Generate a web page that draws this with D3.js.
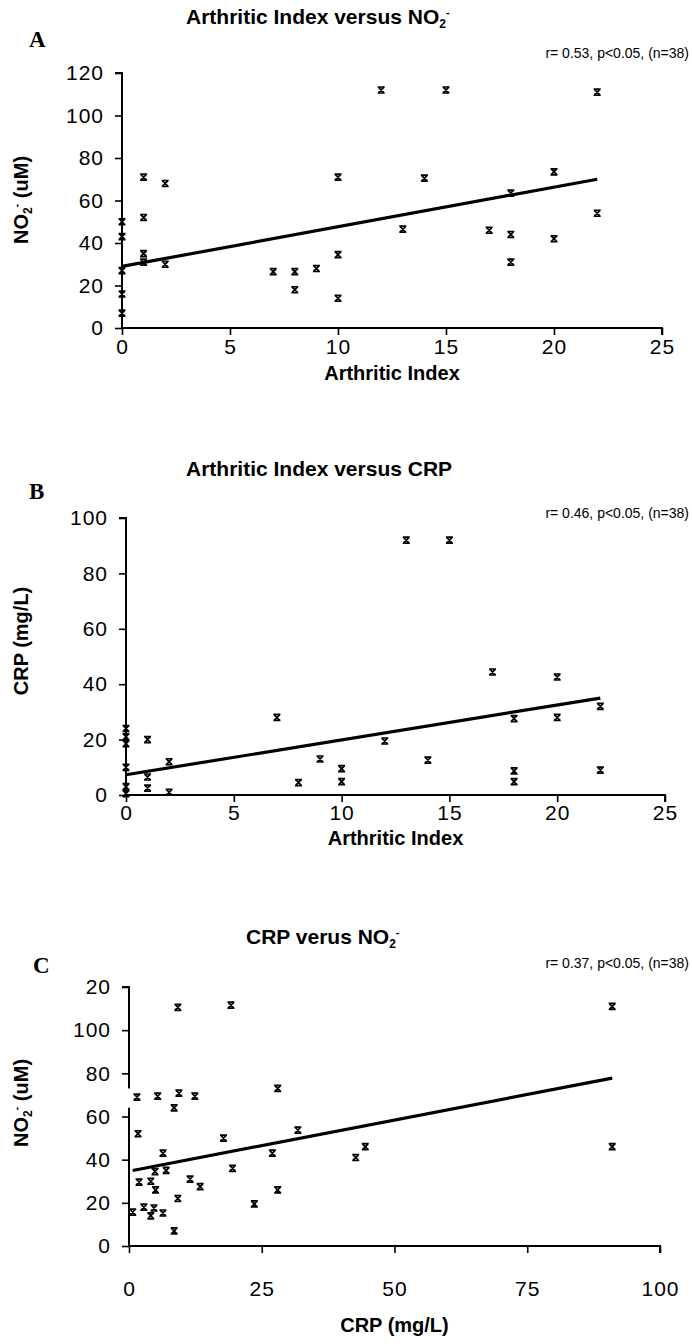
<!DOCTYPE html>
<html><head><meta charset="utf-8">
<script src="https://cdn.jsdelivr.net/npm/d3@7"></script>
<style>
body{margin:0;background:#fff;}
svg{display:block;}
text{font-family:"Liberation Sans",Arial,sans-serif;fill:#000;}
</style></head><body>
<svg id="c" width="692" height="1344"></svg>
<script>
// ---------- DATA ----------
// Panel A: Arthritic Index (x) vs NO2- (uM) (y)
const aX = [0,0,0,0,0, 1,1,1,1, 2,2, 7, 8,8, 9, 10,10,10, 12, 13, 14, 15, 17, 18,18,18, 20,20, 22,22];
const aY = [50,43,27,16,7, 71,52,35,31, 68,30, 26.5, 26.5,18, 28, 71,34.5,14, 112, 46.5, 70.5, 112, 46, 63.5,44,31, 73.5,42, 111,54];
const aFit = [[0,29],[22,70]];
const aXTicks = [0,5,10,15,20,25];
const aYTicks = [0,20,40,60,80,100,120];

// Panel B: Arthritic Index (x) vs CRP (mg/L) (y)
const bX = [0,0,0,0,0,0, 1,1,1, 2,2, 7, 8, 9, 10,10, 12, 13, 14, 15, 17, 18,18,18, 20,20, 22,22];
const bY = [24,21,18.5,10,3,0.5, 20,6.5,2.5, 12,1, 28, 4.5, 13, 9.5,4.8, 19.5, 92, 12.6, 92, 44.4, 27.6,8.7,4.8, 42.6,28, 32,9];
const bFit = [[0,7.3],[22,35]];
const bXTicks = [0,5,10,15,20,25];
const bYTicks = [0,20,40,60,80,100];

// Panel C: CRP (mg/L) (x) vs NO2- (uM) (y)
const cX = [9.2,19.2,91, 1.5,5.4,9.4,12.4, 8.5, 28, 1.7, 31.8, 17.8, 6.4, 27, 91, 44.5, 42.7, 7,4.9, 19.5, 1.9,4.1, 5, 11.5, 13.4, 28, 9.2, 23.6, 0.7, 2.8, 4.7, 6.4, 4.1, 8.5];
const cY = [110.6,111.6,111, 69,69.4,70.8,69.4, 64, 73, 52, 53.7, 50, 43, 43, 46, 46, 41, 35,34.5, 36, 29.6,30, 26, 31, 27.5, 26, 22, 19.5, 15.7, 18, 17.6, 15.3, 14, 7];
const cFit = [[0.7,35],[91,77.8]];
const cXTicks = [0,25,50,75,100];
const cYTicks = [0,20,40,60,80,100,120];
const cYTickLabels = ["0","20","40","60","80","100","20"];

// ---------- DRAW ----------
const svg = d3.select("#c");
const marker = "M-3.5,-3H3.5M-3.5,3H3.5M-2.6,-2.6L2.6,2.6M2.6,-2.6L-2.6,2.6";

function panel(o){
  const g = svg.append("g");
  const x = d3.scaleLinear().domain(o.xDom).range(o.xR);
  const y = d3.scaleLinear().domain(o.yDom).range(o.yR);

  const ya = g.append("g").attr("transform",`translate(${o.xR[0]},0)`)
    .call(d3.axisLeft(y).tickValues(o.yTicks).tickSize(7).tickPadding(11)
      .tickFormat((d,i)=> o.yLabels ? o.yLabels[i] : d));
  const xa = g.append("g").attr("transform",`translate(0,${o.yR[0]})`)
    .call(d3.axisBottom(x).tickValues(o.xTicks).tickSize(7).tickPadding(o.xPad));
  [ya,xa].forEach(a=>{
    a.selectAll(".domain").attr("stroke","#000").attr("stroke-width",2);
    a.selectAll(".tick line").attr("stroke","#000").attr("stroke-width",1.6);
    a.selectAll("text").style("font-size","21px").style("letter-spacing","1px").attr("fill","#000");
  });
  ya.select(".domain").attr("d",`M-7,${o.yR[1]}H0V${o.yR[0]}`);
  xa.select(".domain").attr("d",`M${o.xR[0]},0H${o.xR[1]}V7`);
  if(o.yGap){
    ya.select(".domain").attr("d",`M-7,${o.yR[1]}H0V${y(o.yGap[1])}M0,${y(o.yGap[0])}V${o.yR[0]}`);
  }

  g.append("line")
    .attr("x1",x(o.fit[0][0])).attr("y1",y(o.fit[0][1]))
    .attr("x2",x(o.fit[1][0])).attr("y2",y(o.fit[1][1]))
    .attr("stroke","#000").attr("stroke-width",3.2);

  g.selectAll("path.pt").data(o.xs.map((v,i)=>[v,o.ys[i]])).join("path")
    .attr("class","pt").attr("d",marker)
    .attr("transform",d=>`translate(${x(d[0])},${y(d[1])})`)
    .attr("stroke","#000").attr("stroke-width",1.7).attr("fill","none");

  const t = g.append("text").attr("x",o.titleX).attr("y",o.titleY)
    .attr("text-anchor","start").style("font-size","21px").style("font-weight","bold");
  o.title(t);
  g.append("text").attr("x",o.letterX).attr("y",o.letterY)
    .style("font-family","'Liberation Serif','Times New Roman',serif")
    .style("font-size","23px").style("font-weight","bold").text(o.letter);
  g.append("text").attr("x",689).attr("y",o.statY).attr("text-anchor","end")
    .style("font-size","14px").text(o.stat);
  g.append("text").attr("x",(o.xR[0]+o.xR[1])/2).attr("y",o.xLabY)
    .attr("text-anchor","middle").style("font-size","20px").style("font-weight","bold").text(o.xLab);
  const yl = g.append("text").attr("transform",`translate(28,${o.yLabC}) rotate(-90)`)
    .attr("text-anchor","middle").style("font-size","20px").style("font-weight","bold");
  o.yLab(yl);
}

function no2(t, pre, post){
  if(pre) t.append("tspan").text(pre);
  t.append("tspan").text("NO");
  t.append("tspan").attr("dy","4").style("font-size","12px").text("2");
  t.append("tspan").attr("dy","-12").style("font-size","11px").text("-");
  t.append("tspan").attr("dy","8").text(post||"");
}

panel({xDom:[0,25], xR:[122,662], yDom:[0,120], yR:[328,73], xPad:4,
  xTicks:aXTicks, yTicks:aYTicks, xs:aX, ys:aY, fit:aFit,
  titleX:186, titleY:24, title:t=>no2(t,"Arthritic Index versus ",""),
  letter:"A", letterX:29, letterY:47, statY:58, stat:"r= 0.53, p<0.05, (n=38)",
  xLab:"Arthritic Index", xLabY:380, yLabC:200, yLab:t=>no2(t,""," (uM)")});

panel({xDom:[0,25], xR:[126,665], yDom:[0,100], yR:[795,518], xPad:3,
  xTicks:bXTicks, yTicks:bYTicks, xs:bX, ys:bY, fit:bFit,
  titleX:186, titleY:476, title:t=>t.text("Arthritic Index versus CRP"),
  letter:"B", letterX:29, letterY:499, statY:518, stat:"r= 0.46, p<0.05, (n=38)",
  xLab:"Arthritic Index", xLabY:845, yLabC:641, yLab:t=>t.text("CRP (mg/L)")});

panel({xDom:[0,100], xR:[129,660], yDom:[0,120], yR:[1246,987], xPad:28,
  xTicks:cXTicks, yTicks:cYTicks, yLabels:cYTickLabels, xs:cX, ys:cY, fit:cFit, yGap:[64,73],
  titleX:246, titleY:944, title:t=>no2(t,"CRP verus ",""),
  letter:"C", letterX:33, letterY:973, statY:968, stat:"r= 0.37, p<0.05, (n=38)",
  xLab:"CRP (mg/L)", xLabY:1332, yLabC:1103, yLab:t=>no2(t,""," (uM)")});
</script>
</body></html>
